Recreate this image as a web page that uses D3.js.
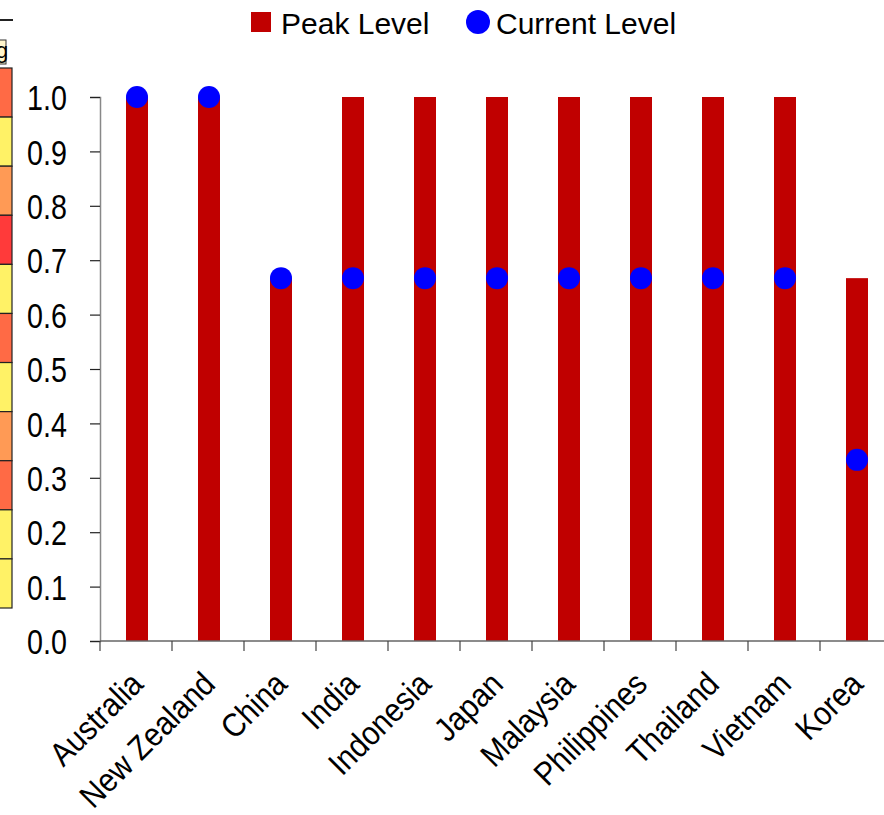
<!DOCTYPE html>
<html>
<head>
<meta charset="utf-8">
<script src="https://cdn.jsdelivr.net/npm/d3@7"></script>
<style>
  html, body { margin: 0; padding: 0; background: #fff; }
  svg text { font-family: "Liberation Sans", Arial, sans-serif; fill: #000; }
</style>
</head>
<body>
<svg id="chart" width="884" height="815"></svg>
<script>
// Policy levels by economy
const countries = ["Australia", "New Zealand", "China", "India", "Indonesia", "Japan",
                   "Malaysia", "Philippines", "Thailand", "Vietnam", "Korea"];
const peakLevel    = [1, 1, 0.667, 1, 1, 1, 1, 1, 1, 1, 0.667];
const currentLevel = [1, 1, 0.667, 0.667, 0.667, 0.667, 0.667, 0.667, 0.667, 0.667, 0.333];
const yTicks = [0, 0.1, 0.2, 0.3, 0.4, 0.5, 0.6, 0.7, 0.8, 0.9, 1.0];

// Side strip of heat-map cells at the left edge
const stripColors = ["#FF6A45", "#FFF266", "#FF9A55", "#FF3A3A", "#FFF266", "#FF6A45",
                     "#FFF266", "#FF9A55", "#FF6A45", "#FFF266", "#FFF266"];

const svg = d3.select("#chart");
const plotLeft = 100, plotBottom = 641, plotTop = 97;
const band = 72;

const x = d3.scaleBand().domain(countries).range([plotLeft, plotLeft + band * countries.length]).padding(0);
const y = d3.scaleLinear().domain([0, 1]).range([plotBottom, plotTop]);

// strip
const stripY = d3.scaleBand().domain(d3.range(stripColors.length)).range([68, 608]);
svg.append("g").selectAll("rect").data(stripColors).join("rect")
  .attr("x", -2).attr("y", (d, i) => stripY(i))
  .attr("width", 14).attr("height", stripY.bandwidth())
  .attr("fill", d => d).attr("stroke", "#222").attr("stroke-width", 1.2);
svg.append("line").attr("x1", 0).attr("x2", 13).attr("y1", 20).attr("y2", 20)
  .attr("stroke", "#222").attr("stroke-width", 2);
svg.append("rect").attr("x", -2).attr("y", 40).attr("width", 8).attr("height", 24)
  .attr("fill", "#FFF6CC").attr("stroke", "#333").attr("stroke-width", 1);
svg.append("text").attr("x", -4).attr("y", 58).attr("font-size", 22).text("g");

// bars
const barW = 22;
svg.append("g").selectAll("rect").data(countries).join("rect")
  .attr("x", (d) => x(d) + x.bandwidth() / 2 - barW / 2 + 1)
  .attr("y", (d, i) => y(peakLevel[i]))
  .attr("width", barW)
  .attr("height", (d, i) => y(0) - y(peakLevel[i]))
  .attr("fill", "#C00000");

// y axis (condensed tick labels)
const yAxis = svg.append("g").attr("transform", `translate(${plotLeft},0)`)
  .call(d3.axisLeft(y).tickValues(yTicks).tickFormat(d3.format(".1f")).tickSize(10));
yAxis.select(".domain").attr("stroke", "#888").attr("stroke-width", 1.5);
yAxis.selectAll(".tick line").attr("stroke", "#222").attr("stroke-width", 1.2);
yAxis.selectAll("text")
  .attr("x", 0).attr("dy", "0.36em")
  .attr("transform", "translate(-33,0) scale(0.82,1)")
  .attr("font-size", 35);

// x axis
const xAxis = svg.append("g").attr("transform", `translate(0,${plotBottom})`);
xAxis.append("line").attr("x1", plotLeft).attr("x2", 884).attr("y1", 0).attr("y2", 0)
  .attr("stroke", "#666").attr("stroke-width", 1.5);
xAxis.selectAll("line.tk").data(countries).join("line").attr("class", "tk")
  .attr("x1", d => x(d)).attr("x2", d => x(d)).attr("y1", 0).attr("y2", 10)
  .attr("stroke", "#444").attr("stroke-width", 1.2);
xAxis.selectAll("text").data(countries).join("text")
  .attr("transform", d => `translate(${x(d) + x.bandwidth() / 2 + 9},${45}) rotate(-45) scale(0.9,1)`)
  .attr("text-anchor", "end")
  .attr("font-size", 33)
  .text(d => d);

// current level dots
svg.append("g").selectAll("circle").data(countries).join("circle")
  .attr("cx", d => x(d) + x.bandwidth() / 2 + 1)
  .attr("cy", (d, i) => y(currentLevel[i]))
  .attr("r", 11)
  .attr("fill", "#0000FF");

// legend
const lg = svg.append("g");
lg.append("rect").attr("x", 251).attr("y", 12).attr("width", 20).attr("height", 20).attr("fill", "#C00000");
lg.append("text").attr("x", 281).attr("y", 34).attr("font-size", 30).text("Peak Level");
lg.append("circle").attr("cx", 478).attr("cy", 22).attr("r", 12).attr("fill", "#0000FF");
lg.append("text").attr("x", 496).attr("y", 34).attr("font-size", 30).text("Current Level");
</script>
</body>
</html>
